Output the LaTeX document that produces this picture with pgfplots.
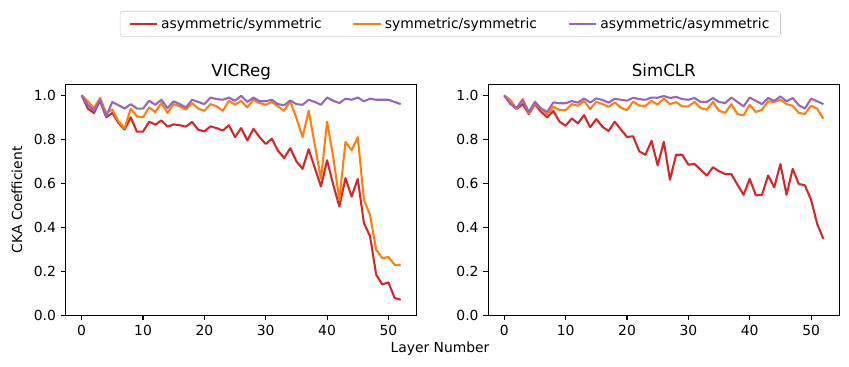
\documentclass[border=0pt]{standalone}
\usepackage{fontspec}
\setmainfont{DejaVu Sans}
\usepackage{pgfplots}
\pgfplotsset{compat=1.18}
\usepackage{pgfplotstable}

\definecolor{tabred}{HTML}{D62728}
\definecolor{taborange}{HTML}{FF7F0E}
\definecolor{tabpurple}{HTML}{9467BD}

% columns: layer, asym/sym, sym/sym, asym/asym
\pgfplotstableread{
layer as ss aa
0 1.000 1.000 1.000
1 0.940 0.973 0.957
2 0.920 0.942 0.930
3 0.975 0.988 0.980
4 0.900 0.920 0.905
5 0.920 0.935 0.970
6 0.875 0.882 0.955
7 0.845 0.851 0.940
8 0.900 0.939 0.960
9 0.835 0.905 0.940
10 0.835 0.900 0.940
11 0.880 0.945 0.975
12 0.867 0.924 0.957
13 0.886 0.965 0.980
14 0.858 0.920 0.942
15 0.868 0.960 0.973
16 0.864 0.950 0.960
17 0.858 0.935 0.945
18 0.879 0.965 0.980
19 0.844 0.940 0.970
20 0.836 0.930 0.960
21 0.859 0.960 0.990
22 0.851 0.950 0.983
23 0.840 0.930 0.980
24 0.864 0.975 0.990
25 0.810 0.957 0.975
26 0.851 0.975 0.998
27 0.795 0.945 0.970
28 0.848 0.980 0.990
29 0.810 0.965 0.973
30 0.779 0.957 0.973
31 0.803 0.970 0.980
32 0.748 0.950 0.960
33 0.715 0.930 0.955
34 0.760 0.973 0.977
35 0.700 0.897 0.960
36 0.666 0.810 0.957
37 0.755 0.930 0.980
38 0.670 0.775 0.970
39 0.586 0.620 0.957
40 0.705 0.880 0.990
41 0.594 0.720 0.975
42 0.495 0.525 0.965
43 0.624 0.788 0.985
44 0.540 0.750 0.980
45 0.620 0.810 0.990
46 0.420 0.525 0.973
47 0.360 0.457 0.985
48 0.185 0.298 0.980
49 0.140 0.260 0.980
50 0.150 0.265 0.980
51 0.079 0.230 0.970
52 0.071 0.227 0.960
}\vicreg

\pgfplotstableread{
layer as ss aa
0 1.000 1.000 1.000
1 0.962 0.979 0.960
2 0.938 0.938 0.944
3 0.960 0.983 0.979
4 0.915 0.918 0.925
5 0.960 0.964 0.971
6 0.925 0.938 0.940
7 0.900 0.913 0.925
8 0.929 0.948 0.968
9 0.880 0.933 0.964
10 0.862 0.933 0.964
11 0.895 0.960 0.974
12 0.873 0.953 0.967
13 0.910 0.974 0.986
14 0.855 0.938 0.967
15 0.892 0.971 0.986
16 0.857 0.960 0.979
17 0.838 0.948 0.967
18 0.880 0.968 0.984
19 0.845 0.944 0.980
20 0.811 0.932 0.976
21 0.814 0.972 0.989
22 0.745 0.954 0.983
23 0.730 0.952 0.980
24 0.793 0.975 0.990
25 0.682 0.958 0.989
26 0.789 0.986 0.997
27 0.616 0.960 0.988
28 0.730 0.969 0.993
29 0.730 0.950 0.983
30 0.685 0.950 0.980
31 0.688 0.970 0.988
32 0.662 0.942 0.970
33 0.635 0.935 0.970
34 0.673 0.970 0.988
35 0.655 0.930 0.970
36 0.642 0.920 0.965
37 0.642 0.960 0.990
38 0.594 0.915 0.970
39 0.548 0.909 0.950
40 0.620 0.957 0.990
41 0.545 0.924 0.975
42 0.548 0.935 0.960
43 0.636 0.973 0.988
44 0.582 0.970 0.975
45 0.688 0.980 0.995
46 0.548 0.960 0.973
47 0.666 0.953 0.988
48 0.597 0.920 0.955
49 0.591 0.915 0.940
50 0.525 0.953 0.985
51 0.415 0.939 0.973
52 0.348 0.894 0.960
}\simclr

\pgfplotsset{
  panel/.style={
    scale only axis,
    width=252.7pt, height=166.3pt,
    xmin=-2.6, xmax=54.6, ymin=0, ymax=1.05,
    xtick={0,10,20,30,40,50},
    ytick={0,0.2,0.4,0.6,0.8,1.0},
    tick align=outside, tick pos=left,
    major tick length=3.5pt,
    axis line style={line width=0.8pt},
    every tick/.style={black, line width=0.8pt},
    /pgf/number format/assume math mode=true,
    yticklabel style={/pgf/number format/.cd, fixed, fixed zerofill, precision=1},
    tick label style={font=\fontsize{10}{12}\selectfont},
    title style={at={(0.5,1)}, anchor=base, inner sep=0pt, yshift=-0.5pt,
                 font=\fontsize{12}{14}\selectfont},
    every axis plot/.append style={line width=1.5pt, mark=none, line join=round},
  },
}

\begin{document}
\begin{tikzpicture}
\path[use as bounding box] (0,0) rectangle (611.28pt,264.24pt);

\begin{axis}[panel, at={(47.3pt,37.2pt)}, anchor=south west,
    title={VICReg},
    ylabel={CKA Coefficient},
    ylabel style={at={(axis description cs:-0.139,0.5)}, anchor=center,
                  font=\fontsize{10}{12}\selectfont},
    legend columns=3,
    legend style={at={(axis description cs:1.096,1.262)}, anchor=center,
        draw=black!20, rounded corners=2pt,
        font=\fontsize{10}{12}\selectfont,
        inner xsep=6pt, inner ysep=2.5pt,
        /tikz/every even column/.append style={column sep=20pt}},
    legend image code/.code={\draw[#1] (0pt,0pt) -- (20pt,0pt);},
]
\addplot[tabred] table[x=layer, y=as] {\vicreg};
\addlegendentry{asymmetric/symmetric}
\addplot[taborange] table[x=layer, y=ss] {\vicreg};
\addlegendentry{symmetric/symmetric}
\addplot[tabpurple] table[x=layer, y=aa] {\vicreg};
\addlegendentry{asymmetric/asymmetric}
\end{axis}

\begin{axis}[panel, at={(351.6pt,37.2pt)}, anchor=south west,
    title={SimCLR},
]
\addplot[tabred] table[x=layer, y=as] {\simclr};
\addplot[taborange] table[x=layer, y=ss] {\simclr};
\addplot[tabpurple] table[x=layer, y=aa] {\simclr};
\end{axis}

\node[font=\fontsize{10}{12}\selectfont] at (316.8pt,12.96pt) {Layer Number};
\end{tikzpicture}
\end{document}
